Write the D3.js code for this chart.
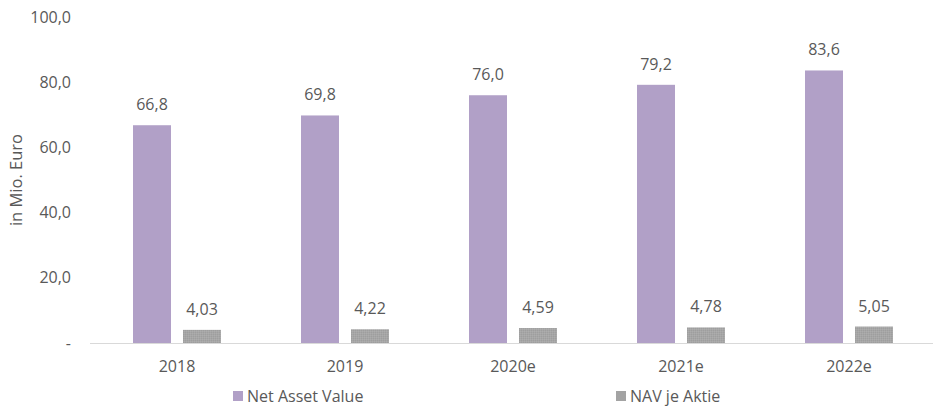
<!DOCTYPE html>
<html>
<head>
<meta charset="utf-8">
<script src="https://cdn.jsdelivr.net/npm/d3@7"></script>
<style>
  body { margin: 0; background: #fff; }
  text { font-family: "Open Sans", sans-serif; fill: #595959; }
</style>
</head>
<body>
<div id="chart-area"></div>
<script>
// data
var years = ["2018", "2019", "2020e", "2021e", "2022e"];
var seriesNames = ["Net Asset Value", "NAV je Aktie"];
var navValues = [66.8, 69.8, 76.0, 79.2, 83.6];
var navPerShare = [4.03, 4.22, 4.59, 4.78, 5.05];
var yTicks = [0, 20, 40, 60, 80, 100];

var colours = ["#b1a0c7", "url(#grayPattern)"];
var legendColours = ["#b1a0c7", "#a3a3a3"];

var svgWidth = 937, svgHeight = 407;
var margin = { left: 93, right: 4, top: 17, bottom: 64 };

var de = d3.formatLocale({ decimal: ",", thousands: ".", grouping: [3], currency: ["", " €"] });
var fmt1 = de.format(".1f"), fmt2 = de.format(".2f");

var svg = d3.select("#chart-area").append("svg")
    .attr("width", svgWidth)
    .attr("height", svgHeight);

// speckled gray fill like the original
var pat = svg.append("defs").append("pattern")
    .attr("id", "grayPattern")
    .attr("width", 2).attr("height", 2)
    .attr("patternUnits", "userSpaceOnUse");
pat.append("rect").attr("width", 2).attr("height", 2).attr("fill", "#a6a6a6");
pat.append("rect").attr("width", 1).attr("height", 1).attr("fill", "#9e9e9e");
pat.append("rect").attr("x", 1).attr("y", 1).attr("width", 1).attr("height", 1).attr("fill", "#adadad");

var x0 = d3.scaleBand()
    .domain(years)
    .range([margin.left, svgWidth - margin.right]);

var x1 = d3.scaleBand()
    .domain(seriesNames)
    .range([0, x0.bandwidth()])
    .paddingInner(0.24)
    .paddingOuter(0.8);

var y = d3.scaleLinear()
    .domain([0, 100])
    .range([svgHeight - margin.bottom, margin.top]);

// y tick labels
svg.append("g").selectAll("text")
    .data(yTicks)
    .enter().append("text")
    .attr("x", 71)
    .attr("y", function(d) { return y(d); })
    .attr("dy", "0.35em")
    .attr("text-anchor", "end")
    .style("font-size", "16px")
    .text(function(d) { return d == 0 ? "-" : fmt1(d); });

// y axis title
svg.append("text")
    .attr("transform", "translate(22," + ((y(0) + y(100)) / 2) + ") rotate(-90)")
    .attr("text-anchor", "middle")
    .style("font-size", "16.5px")
    .text("in Mio. Euro");

// bars
var rows = years.map(function(yr, i) {
    return { year: yr, vals: [navValues[i], navPerShare[i]] };
});

var groups = svg.append("g").selectAll("g")
    .data(rows)
    .enter().append("g")
    .attr("transform", function(d) { return "translate(" + x0(d.year) + ",0)"; });

groups.selectAll("rect")
    .data(function(d) { return d.vals.map(function(v, j) { return { name: seriesNames[j], value: v, idx: j }; }); })
    .enter().append("rect")
    .attr("x", function(d) { return x1(d.name); })
    .attr("y", function(d) { return y(d.value); })
    .attr("width", x1.bandwidth())
    .attr("height", function(d) { return y(0) - y(d.value); })
    .attr("fill", function(d) { return colours[d.idx]; });

groups.selectAll("text.val")
    .data(function(d) { return d.vals.map(function(v, j) { return { name: seriesNames[j], value: v, idx: j }; }); })
    .enter().append("text")
    .attr("class", "val")
    .attr("x", function(d) { return x1(d.name) + x1.bandwidth() / 2; })
    .attr("y", function(d) { return y(d.value) - 15; })
    .attr("text-anchor", "middle")
    .style("font-size", "16px")
    .text(function(d) { return d.idx == 0 ? fmt1(d.value) : fmt2(d.value); });

// baseline
svg.append("line")
    .attr("x1", margin.left - 3).attr("x2", svgWidth - margin.right)
    .attr("y1", y(0) + 0.5).attr("y2", y(0) + 0.5)
    .attr("stroke", "#d9d9d9")
    .attr("stroke-width", 1);

// x labels
svg.append("g").selectAll("text")
    .data(years)
    .enter().append("text")
    .attr("x", function(d) { return x0(d) + x0.bandwidth() / 2; })
    .attr("y", y(0) + 23)
    .attr("dy", "0.35em")
    .attr("text-anchor", "middle")
    .style("font-size", "16px")
    .text(function(d) { return d; });

// legend
var legendX = [233, 616];
var legend = svg.append("g").selectAll("g")
    .data(seriesNames)
    .enter().append("g")
    .attr("transform", function(d, i) { return "translate(" + legendX[i] + ",396)"; });

legend.append("rect")
    .attr("x", 0).attr("y", -5)
    .attr("width", 10).attr("height", 10)
    .attr("fill", function(d, i) { return legendColours[i]; });

legend.append("text")
    .attr("x", 14)
    .attr("dy", "0.35em")
    .style("font-size", "16px")
    .text(function(d) { return d; });
</script>
</body>
</html>
